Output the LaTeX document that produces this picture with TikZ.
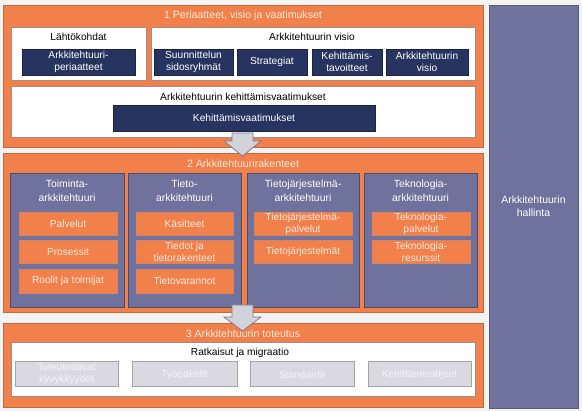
\documentclass[tikz,border=0pt]{standalone}
\usepackage{fontspec}
\setmainfont{Liberation Sans}
\definecolor{bgc}{HTML}{F3F3F3}
\definecolor{orng}{HTML}{F2804B}
\definecolor{orngd}{HTML}{C9673C}
\definecolor{navy}{HTML}{27345F}
\definecolor{purp}{HTML}{6F729C}
\definecolor{purpd}{HTML}{4B4D6E}
\definecolor{wbord}{HTML}{A48C8C}
\definecolor{gfill}{HTML}{D9D9DF}
\definecolor{gbord}{HTML}{A3A3AB}
\definecolor{gtext}{HTML}{F4F4F8}
\definecolor{ttext}{HTML}{FFE9DD}
\definecolor{arrf}{HTML}{D2D2DA}
\definecolor{arrd}{HTML}{7C7C8C}
\newcommand\boxat[7]{\node[#1, anchor=north west, inner sep=0pt, outer sep=0pt,
  minimum width={(#5-#3)*1pt}, minimum height={(#6-#4)*1pt}] (#2) at (#3,#4) {#7};}
\tikzset{
  panel/.style={fill=orng, draw=orngd, line width=0.9pt},
  wbox/.style={fill=white, draw=wbord, line width=1pt},
  dbox/.style={fill=navy, draw=navy!70!black, line width=0.6pt, text=white, align=center,
    font=\fontsize{10.2}{11.5}\selectfont},
  col/.style={fill=purp, draw=purpd, line width=0.9pt},
  obox/.style={fill=orng, draw=orngd!80, line width=0.6pt, text=ttext, align=center,
    font=\fontsize{10.2}{12}\selectfont},
  gbox/.style={fill=gfill, draw=gbord, line width=1pt, text=gtext, align=center,
    font=\fontsize{10.2}{12}\selectfont},
  rpanel/.style={fill=purp, draw=purp!80!black, line width=0.8pt, text=white, align=center,
    font=\fontsize{10.5}{13}\selectfont},
  ptitle/.style={text=ttext, font=\fontsize{10.6}{12}\selectfont, inner sep=0pt},
  wtitle/.style={text=black, font=\fontsize{10.2}{12}\selectfont, inner sep=0pt},
  ctitle/.style={text=white, align=center, font=\fontsize{10.4}{14}\selectfont, inner sep=0pt},
  blockarrow/.style={fill=arrf, draw=arrd, line width=0.8pt, line join=miter},
}
\begin{document}
\begin{tikzpicture}[x=1pt,y=-1pt]
\useasboundingbox (0,0) rectangle (582,411);
\fill[bgc] (0,0) rectangle (582,411);
% right panel
\boxat{rpanel}{hall}{489}{5}{578}{408}{Arkkitehtuurin\\hallinta}
% panel 1
\boxat{panel}{p1}{3}{5}{483}{147}{}
\node[ptitle] (t1) at (243,16) {1 Periaatteet, visio ja vaatimukset};
\boxat{wbox}{lk}{11}{28}{146}{81}{}
\node[wtitle] (lkt) at (78.5,37) {Lähtökohdat};
\boxat{dbox}{ap}{22}{49}{135}{75}{Arkkitehtuuri-\\periaatteet}
\boxat{wbox}{av}{151}{28}{475}{81}{}
\node[wtitle] (avt) at (312,37) {Arkkitehtuurin visio};
\boxat{dbox}{ss}{154}{49}{233}{75}{Suunnittelun\\sidosryhmät}
\boxat{dbox}{st}{237}{49}{307}{75}{Strategiat}
\boxat{dbox}{kt}{312}{49}{382}{75}{Kehittämis-\\tavoitteet}
\boxat{dbox}{avi}{386}{49}{468}{75}{Arkkitehtuurin\\visio}
\boxat{wbox}{kv}{11}{87}{475}{138}{}
\node[wtitle] (kvt) at (243,97) {Arkkitehtuurin kehittämisvaatimukset};
\boxat{dbox}{kvd}{113}{105}{375}{131}{Kehittämisvaatimukset}
% panel 2
\boxat{panel}{p2}{3}{153}{483}{312}{}
\node[ptitle] (t2) at (243,164) {2 Arkkitehtuurirakenteet};
\boxat{col}{c1}{10}{173}{124}{307}{}
\boxat{col}{c2}{128}{173}{241}{307}{}
\boxat{col}{c3}{247}{173}{359}{307}{}
\boxat{col}{c4}{364}{173}{477}{307}{}
\node[ctitle] (c1t) at (67,190.5) {Toiminta-\\arkkitehtuuri};
\node[ctitle] (c2t) at (184.5,190.5) {Tieto-\\arkkitehtuuri};
\node[ctitle] (c3t) at (303,190.5) {Tietojärjestelmä-\\arkkitehtuuri};
\node[ctitle] (c4t) at (420.5,190.5) {Teknologia-\\arkkitehtuuri};
\boxat{obox}{o11}{19}{212}{117}{235}{Palvelut}
\boxat{obox}{o12}{19}{240}{117}{263}{Prosessit}
\boxat{obox}{o13}{19}{269}{117}{293}{Roolit ja toimijat}
\boxat{obox}{o21}{136}{212}{233}{235}{Käsitteet}
\boxat{obox}{o22}{136}{240}{233}{263}{Tiedot ja\\tietorakenteet}
\boxat{obox}{o23}{136}{269}{233}{293}{Tietovarannot}
\boxat{obox}{o31}{254}{212}{352}{235}{Tietojärjestelmä-\\palvelut}
\boxat{obox}{o32}{254}{240}{352}{263}{Tietojärjestelmät}
\boxat{obox}{o41}{372}{212}{470}{235}{Teknologia-\\palvelut}
\boxat{obox}{o42}{372}{240}{470}{263}{Teknologia-\\resurssit}
% panel 3
\boxat{panel}{p3}{3}{323}{483}{407}{}
\node[ptitle] (t3) at (243,333.5) {3 Arkkitehtuurin toteutus};
\boxat{wbox}{rm}{11}{343}{475}{397}{}
\node[wtitle] (rmt) at (240,353) {Ratkaisut ja migraatio};
\boxat{gbox}{g1}{15}{362}{118}{387}{Toteutettavat\\kyvykkyydet}
\boxat{gbox}{g2}{132}{362}{237}{387}{Työpaketit}
\boxat{gbox}{g3}{250}{362}{354}{387}{Standardit}
\boxat{gbox}{g4}{368}{362}{471}{387}{Kehittämisohjeet}
% block arrows
\draw[blockarrow] (232,133) -- (253,133) -- (253,141) -- (261,141) -- (242.5,156)
  -- (224,141) -- (232,141) -- cycle;
\draw[blockarrow] (232,305) -- (253,305) -- (253,317) -- (261,317) -- (242.5,331)
  -- (224,317) -- (232,317) -- cycle;
\end{tikzpicture}
\end{document}
